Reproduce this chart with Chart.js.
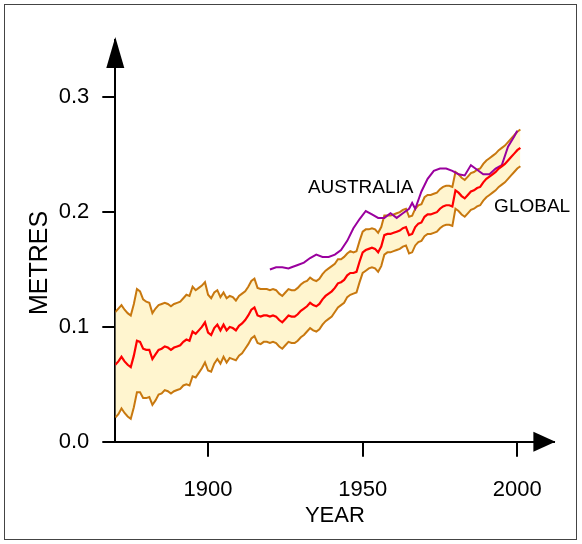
<!DOCTYPE html>
<html>
<head>
<meta charset="utf-8">
<script src="https://cdn.jsdelivr.net/npm/chart.js@4.4.1/dist/chart.umd.min.js"></script>
<style>
  html, body { margin: 0; padding: 0; background: #fff; }
  canvas { display: block; }
</style>
</head>
<body>
<canvas id="c" width="582" height="544"></canvas>
<script>
// ---------------- DATA ----------------
const firstYear = 1870;
// Global mean sea level (metres), 1870..2001
const globalMean = [
  0.067,0.070,0.074,0.070,0.067,0.065,0.075,0.088,0.087,0.081,
  0.080,0.080,0.072,0.076,0.080,0.081,0.083,0.082,0.080,0.082,
  0.083,0.084,0.087,0.089,0.088,0.096,0.094,0.097,0.100,0.104,
  0.095,0.093,0.099,0.102,0.097,0.102,0.097,0.100,0.099,0.097,
  0.101,0.103,0.106,0.110,0.115,0.117,0.110,0.109,0.110,0.110,
  0.109,0.110,0.109,0.106,0.104,0.107,0.110,0.109,0.109,0.111,
  0.114,0.116,0.118,0.121,0.119,0.118,0.120,0.124,0.127,0.129,
  0.131,0.134,0.138,0.139,0.141,0.145,0.147,0.147,0.148,0.157,
  0.165,0.167,0.168,0.169,0.168,0.165,0.170,0.180,0.181,0.181,
  0.182,0.183,0.184,0.186,0.187,0.180,0.181,0.187,0.190,0.191,
  0.196,0.198,0.198,0.199,0.200,0.203,0.205,0.206,0.206,0.205,
  0.219,0.217,0.214,0.212,0.215,0.218,0.219,0.221,0.222,0.226,
  0.229,0.231,0.233,0.235,0.238,0.240,0.242,0.245,0.248,0.251,
  0.254,0.256
];
// Uncertainty half-width (metres), 1870..2001
const uncertainty = [
  0.046,0.046,0.045,0.045,0.045,0.045,0.045,0.045,0.044,0.043,
  0.042,0.041,0.040,0.040,0.039,0.039,0.038,0.038,0.038,0.038,
  0.038,0.038,0.038,0.039,0.039,0.039,0.038,0.037,0.036,0.035,
  0.033,0.032,0.031,0.030,0.029,0.028,0.028,0.027,0.027,0.026,
  0.026,0.026,0.025,0.025,0.025,0.025,0.024,0.024,0.023,0.023,
  0.023,0.023,0.023,0.023,0.023,0.023,0.023,0.023,0.023,0.023,
  0.023,0.023,0.022,0.022,0.022,0.022,0.022,0.022,0.022,0.022,
  0.022,0.021,0.021,0.020,0.020,0.019,0.019,0.018,0.018,0.018,
  0.018,0.018,0.017,0.017,0.017,0.017,0.017,0.017,0.016,0.016,
  0.016,0.016,0.016,0.016,0.016,0.016,0.016,0.016,0.016,0.016,
  0.017,0.017,0.017,0.017,0.017,0.017,0.017,0.017,0.017,0.017,
  0.016,0.016,0.016,0.016,0.016,0.016,0.016,0.016,0.016,0.016,
  0.016,0.016,0.016,0.016,0.016,0.016,0.016,0.016,0.016,0.016,
  0.016,0.016
];
// Australian sea level (metres)
const ausYears = [1920,1922,1924,1926,1927,1929,1931,1933,1935,1937,1939,1941,1943,1945,1947,1949,1951,1953,1955,1957,1959,1961,1963,1965,1966,1967,1969,1971,1973,1975,1977,1979,1981,1983,1985,1987,1989,1991,1993,1995,1997,1999,2000];
const ausValues = [0.150,0.152,0.152,0.151,0.152,0.154,0.156,0.160,0.163,0.161,0.161,0.163,0.167,0.175,0.186,0.194,0.201,0.198,0.195,0.195,0.199,0.195,0.199,0.203,0.208,0.203,0.218,0.229,0.236,0.238,0.238,0.236,0.233,0.232,0.241,0.237,0.233,0.233,0.238,0.241,0.257,0.266,0.271];

const xTicks = [1900, 1950, 2000];
const yTicks = [0.0, 0.1, 0.2, 0.3];
const xRange = [1870, 2012];
const yRange = [0, 0.35];

const seriesLabels = ['AUSTRALIA', 'GLOBAL'];
const axisTitles = { x: 'YEAR', y: 'METRES' };

// ---------------- BUILD ----------------
const years = globalMean.map((_, i) => firstYear + i);
const meanPts = years.map((yr, i) => ({ x: yr, y: globalMean[i] }));
const upperPts = years.map((yr, i) => ({ x: yr, y: globalMean[i] + uncertainty[i] }));
const lowerPts = years.map((yr, i) => ({ x: yr, y: globalMean[i] - uncertainty[i] }));
const ausPts = ausYears.map((yr, i) => ({ x: yr, y: ausValues[i] }));

const FONT = '"Liberation Sans", Arial, Helvetica, sans-serif';

const decor = {
  id: 'decor',
  beforeDraw(chart) {
    const ctx = chart.ctx;
    ctx.save();
    ctx.fillStyle = '#fff';
    ctx.fillRect(0, 0, chart.width, chart.height);
    ctx.restore();
  },
  afterDraw(chart) {
    const ctx = chart.ctx;
    const xs = chart.scales.x, ys = chart.scales.y;
    const x0 = xs.left, y0 = ys.bottom;
    ctx.save();
    // frame
    ctx.strokeStyle = '#444';
    ctx.lineWidth = 1;
    ctx.strokeRect(4.5, 4.5, 572, 535);
    // arrow heads
    ctx.fillStyle = '#000';
    ctx.beginPath();
    ctx.moveTo(x0, ys.top - 3);
    ctx.lineTo(x0 - 9, ys.top + 28);
    ctx.lineTo(x0 + 9, ys.top + 28);
    ctx.closePath();
    ctx.fill();
    ctx.beginPath();
    ctx.moveTo(xs.right + 1, y0);
    ctx.lineTo(xs.right - 21, y0 - 10);
    ctx.lineTo(xs.right - 21, y0 + 10);
    ctx.closePath();
    ctx.fill();
    // y title
    ctx.font = '25px ' + FONT;
    ctx.textAlign = 'center';
    ctx.textBaseline = 'middle';
    ctx.translate(40, 263);
    ctx.rotate(-Math.PI / 2);
    ctx.fillText(axisTitles.y, 0, 0);
    ctx.restore();
    // series labels
    ctx.save();
    ctx.font = '19px ' + FONT;
    ctx.fillStyle = '#000';
    ctx.textAlign = 'left';
    ctx.textBaseline = 'middle';
    ctx.fillText(seriesLabels[0], xs.getPixelForValue(1932.3), ys.getPixelForValue(0.221));
    ctx.fillText(seriesLabels[1], xs.getPixelForValue(1992.5), ys.getPixelForValue(0.2043));
    ctx.restore();
  }
};

const ORANGE = '#c8780f';

new Chart(document.getElementById('c'), {
  type: 'line',
  data: {
    datasets: [
      { data: lowerPts, borderColor: ORANGE, borderWidth: 2, pointRadius: 0, fill: false, order: 2 },
      { data: upperPts, borderColor: ORANGE, borderWidth: 2, pointRadius: 0, fill: '-1', backgroundColor: '#fff5cf', order: 2 },
      { data: meanPts, borderColor: '#ff0000', borderWidth: 2.2, pointRadius: 0, fill: false, order: 0 },
      { data: ausPts, borderColor: '#9a009e', borderWidth: 2, pointRadius: 0, fill: false, order: 1 }
    ]
  },
  options: {
    responsive: false,
    animation: false,
    devicePixelRatio: 1,
    layout: { padding: { left: 0, top: 40, right: 27.6, bottom: 0 } },
    plugins: { legend: { display: false }, tooltip: { enabled: false } },
    elements: { line: { tension: 0 } },
    scales: {
      x: {
        type: 'linear',
        min: xRange[0], max: xRange[1],
        afterFit(s) { s.height = 544 - 441.7; },
        afterBuildTicks(s) { s.ticks = xTicks.map(v => ({ value: v })); },
        grid: { drawOnChartArea: false, drawTicks: true, tickLength: 15, color: '#000', lineWidth: 2 },
        border: { display: true, color: '#000', width: 2 },
        ticks: { color: '#000', font: { family: FONT, size: 22 }, padding: 20, maxRotation: 0, callback: v => String(v) },
        title: { display: true, text: axisTitles.x, color: '#000', font: { family: FONT, size: 22 }, padding: { top: 0, bottom: 15 } }
      },
      y: {
        type: 'linear',
        min: yRange[0], max: yRange[1],
        afterFit(s) { s.width = 115.3; },
        afterBuildTicks(s) { s.ticks = yTicks.map(v => ({ value: v })); },
        grid: { drawOnChartArea: false, drawTicks: true, tickLength: 13, color: '#000', lineWidth: 2 },
        border: { display: true, color: '#000', width: 2 },
        ticks: { color: '#000', font: { family: FONT, size: 22 }, padding: 13, callback: v => Number(v).toFixed(1) }
      }
    }
  },
  plugins: [decor]
});
</script>
</body>
</html>
